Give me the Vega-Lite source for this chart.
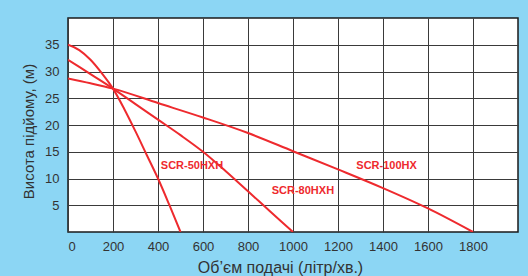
{
  "$schema": "https://vega.github.io/schema/vega-lite/v6.json",
  "width": 450,
  "height": 214,
  "autosize": {"type": "none"},
  "padding": {"left": 68, "top": 18, "right": 10, "bottom": 44},
  "background": "#8cd6f4",
  "config": {
    "view": {"fill": "white", "stroke": "#1a1a1a", "strokeWidth": 1.5},
    "font": "Liberation Sans Narrow, Arial Narrow, Liberation Sans, sans-serif",
    "axis": {
      "labelFont": "Liberation Sans Narrow, Arial Narrow, Liberation Sans, sans-serif",
      "titleFont": "Liberation Sans Narrow, Arial Narrow, Liberation Sans, sans-serif",
      "labelColor": "#333333",
      "titleColor": "#333333",
      "gridColor": "#3a3a3a",
      "gridOpacity": 1,
      "gridWidth": 1,
      "domain": false,
      "ticks": false,
      "labelOverlap": false,
      "labelBound": false,
      "format": "d"
    }
  },
  "datasets": {
    "curves": [
      {"series": "SCR-50HXH", "flow": 0, "head": 35},
      {"series": "SCR-50HXH", "flow": 50, "head": 34.0},
      {"series": "SCR-50HXH", "flow": 100, "head": 32.2},
      {"series": "SCR-50HXH", "flow": 150, "head": 29.7},
      {"series": "SCR-50HXH", "flow": 200, "head": 26.8},
      {"series": "SCR-50HXH", "flow": 250, "head": 23.0},
      {"series": "SCR-50HXH", "flow": 300, "head": 18.8},
      {"series": "SCR-50HXH", "flow": 350, "head": 14.4},
      {"series": "SCR-50HXH", "flow": 400, "head": 10},
      {"series": "SCR-50HXH", "flow": 450, "head": 5.1},
      {"series": "SCR-50HXH", "flow": 500, "head": 0},
      {"series": "SCR-80HXH", "flow": 0, "head": 32.2},
      {"series": "SCR-80HXH", "flow": 100, "head": 29.5},
      {"series": "SCR-80HXH", "flow": 200, "head": 26.8},
      {"series": "SCR-80HXH", "flow": 300, "head": 23.9},
      {"series": "SCR-80HXH", "flow": 400, "head": 21.0},
      {"series": "SCR-80HXH", "flow": 500, "head": 18.1},
      {"series": "SCR-80HXH", "flow": 600, "head": 15},
      {"series": "SCR-80HXH", "flow": 700, "head": 11.4},
      {"series": "SCR-80HXH", "flow": 800, "head": 7.6},
      {"series": "SCR-80HXH", "flow": 900, "head": 3.8},
      {"series": "SCR-80HXH", "flow": 1000, "head": 0},
      {"series": "SCR-100HX", "flow": 0, "head": 28.7},
      {"series": "SCR-100HX", "flow": 100, "head": 27.8},
      {"series": "SCR-100HX", "flow": 200, "head": 26.8},
      {"series": "SCR-100HX", "flow": 400, "head": 24.1},
      {"series": "SCR-100HX", "flow": 600, "head": 21.4},
      {"series": "SCR-100HX", "flow": 800, "head": 18.5},
      {"series": "SCR-100HX", "flow": 1000, "head": 15.1},
      {"series": "SCR-100HX", "flow": 1200, "head": 11.7},
      {"series": "SCR-100HX", "flow": 1400, "head": 8.2},
      {"series": "SCR-100HX", "flow": 1600, "head": 4.4},
      {"series": "SCR-100HX", "flow": 1800, "head": 0}
    ],
    "labels": [
      {"series": "SCR-50HXH", "flow": 551, "head": 12.4},
      {"series": "SCR-80HXH", "flow": 1044, "head": 7.6},
      {"series": "SCR-100HX", "flow": 1416, "head": 12.3}
    ]
  },
  "layer": [
    {
      "data": {"name": "curves"},
      "mark": {"type": "line", "color": "#ee2a2e", "strokeWidth": 2, "interpolate": "monotone", "clip": true},
      "encoding": {
        "x": {
          "field": "flow", "type": "quantitative",
          "scale": {"domain": [0, 2000], "nice": false},
          "axis": {
            "values": [0, 200, 400, 600, 800, 1000, 1200, 1400, 1600, 1800],
            "tickCount": 11,
            "title": "Об’єм подачі (літр/хв.)",
            "labelFontSize": 13,
            "labelPadding": 8,
            "titleFontSize": 16,
            "titleFontWeight": "normal",
            "titlePadding": 6,
            "titleX": 212
          }
        },
        "y": {
          "field": "head", "type": "quantitative",
          "scale": {"domain": [0, 40], "nice": false},
          "axis": {
            "values": [5, 10, 15, 20, 25, 30, 35],
            "tickCount": 8,
            "title": "Висота підйому, (м)",
            "labelFontSize": 13,
            "labelPadding": 9,
            "titleFontSize": 15,
            "titleFontWeight": "normal",
            "titlePadding": 8,
            "titleY": 113
          }
        },
        "detail": {"field": "series", "type": "nominal"}
      }
    },
    {
      "data": {"name": "labels"},
      "mark": {"type": "text", "color": "#ee2a2e", "fontWeight": "bold", "fontSize": 11, "font": "Liberation Sans Narrow, Arial Narrow, Liberation Sans, sans-serif"},
      "encoding": {
        "x": {"field": "flow", "type": "quantitative"},
        "y": {"field": "head", "type": "quantitative"},
        "text": {"field": "series", "type": "nominal"}
      }
    }
  ]
}
